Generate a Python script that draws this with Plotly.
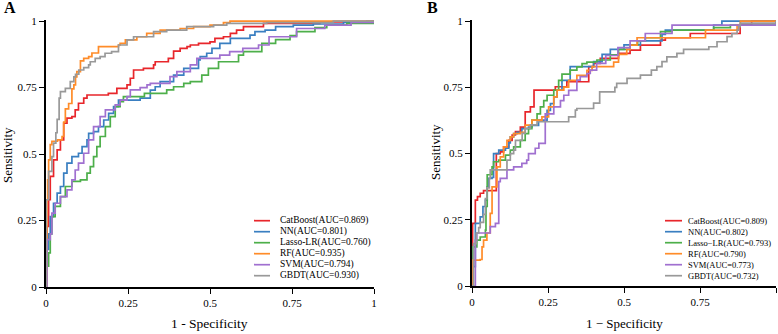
import plotly.graph_objects as go

# ---------------- data ----------------
models = ["CatBoost", "NN", "Lasso-LR", "RF", "SVM", "GBDT"]
models_b = ["CatBoost", "NN", "Lasso\u2212LR", "RF", "SVM", "GBDT"]
auc_a = ["0.869", "0.801", "0.760", "0.935", "0.794", "0.930"]
auc_b = ["0.809", "0.802", "0.793", "0.790", "0.773", "0.732"]
colors = ["#E8262B", "#3A7FC1", "#4DAF4A", "#FF8C29", "#A070D0", "#999999"]
tick_vals = [0, 0.25, 0.5, 0.75, 1]
tick_text = ["0", "0.25", "0.5", "0.75", "1"]

# Panel A ROC corner points (1-specificity, sensitivity)
catboost_a = [(0, 0), (0.003, 0.228), (0.008, 0.328), (0.013, 0.416), (0.023, 0.478), (0.034, 0.516),
              (0.044, 0.553), (0.054, 0.616), (0.064, 0.635), (0.079, 0.641), (0.089, 0.666), (0.099, 0.691),
              (0.115, 0.71), (0.125, 0.722), (0.19, 0.728), (0.216, 0.747), (0.247, 0.76), (0.257, 0.785),
              (0.267, 0.816), (0.297, 0.822), (0.328, 0.835), (0.333, 0.847), (0.373, 0.86), (0.389, 0.887),
              (0.409, 0.897), (0.43, 0.904), (0.44, 0.91), (0.465, 0.916), (0.5, 0.922), (0.515, 0.935),
              (0.541, 0.941), (0.562, 0.954), (0.581, 0.966), (0.602, 0.979), (0.663, 0.991), (0.835, 0.997), (1, 1)]
nn_a = [(0, 0), (0.003, 0.141), (0.008, 0.2), (0.013, 0.265), (0.023, 0.315), (0.034, 0.353), (0.044, 0.378),
        (0.054, 0.428), (0.064, 0.466), (0.079, 0.49), (0.099, 0.503), (0.11, 0.528), (0.125, 0.553),
        (0.13, 0.578), (0.145, 0.584), (0.16, 0.603), (0.176, 0.628), (0.191, 0.653), (0.206, 0.678),
        (0.221, 0.703), (0.287, 0.71), (0.318, 0.74), (0.333, 0.753), (0.348, 0.772), (0.389, 0.797),
        (0.42, 0.822), (0.465, 0.854), (0.47, 0.866), (0.49, 0.879), (0.506, 0.897), (0.53, 0.916),
        (0.562, 0.935), (0.622, 0.947), (0.637, 0.96), (0.668, 0.966), (0.7, 0.979), (0.754, 0.985),
        (0.815, 0.989), (0.907, 0.995), (0.978, 1.0), (1, 1)]
lasso_a = [(0, 0), (0.003, 0.078), (0.008, 0.128), (0.013, 0.2), (0.018, 0.265), (0.028, 0.303), (0.044, 0.34),
           (0.059, 0.378), (0.079, 0.397), (0.105, 0.403), (0.125, 0.428), (0.135, 0.453), (0.145, 0.49),
           (0.155, 0.528), (0.165, 0.566), (0.181, 0.603), (0.196, 0.641), (0.211, 0.678), (0.226, 0.697),
           (0.236, 0.716), (0.3, 0.728), (0.368, 0.741), (0.389, 0.753), (0.42, 0.766), (0.44, 0.772),
           (0.475, 0.797), (0.495, 0.822), (0.526, 0.847), (0.587, 0.872), (0.602, 0.885), (0.658, 0.916),
           (0.7, 0.93), (0.744, 0.945), (0.764, 0.96), (0.82, 0.975), (0.856, 0.985), (0.917, 0.991), (1, 1)]
rf_a = [(0, 0), (0.003, 0.328), (0.005, 0.403), (0.008, 0.478), (0.013, 0.535), (0.018, 0.548), (0.035, 0.553),
        (0.049, 0.566), (0.054, 0.62), (0.059, 0.67), (0.069, 0.69), (0.079, 0.745), (0.085, 0.76),
        (0.09, 0.79), (0.094, 0.81), (0.105, 0.85), (0.115, 0.86), (0.13, 0.866), (0.14, 0.88), (0.16, 0.904),
        (0.221, 0.91), (0.226, 0.916), (0.242, 0.929), (0.277, 0.941), (0.307, 0.954), (0.348, 0.966),
        (0.409, 0.972), (0.45, 0.979), (0.5, 0.985), (0.541, 0.994), (0.561, 1.0), (1, 1)]
svm_a = [(0, 0), (0.003, 0.178), (0.013, 0.2), (0.018, 0.278), (0.028, 0.315), (0.044, 0.34), (0.064, 0.365),
         (0.079, 0.403), (0.089, 0.44), (0.099, 0.466), (0.115, 0.503), (0.13, 0.553), (0.145, 0.603),
         (0.165, 0.641), (0.181, 0.666), (0.211, 0.685), (0.226, 0.703), (0.247, 0.716), (0.257, 0.741),
         (0.287, 0.75), (0.308, 0.76), (0.318, 0.766), (0.378, 0.791), (0.399, 0.81), (0.44, 0.835),
         (0.46, 0.86), (0.53, 0.872), (0.56, 0.885), (0.6, 0.897), (0.648, 0.91), (0.68, 0.941),
         (0.764, 0.972), (0.85, 0.985), (0.93, 0.995), (1, 1)]
gbdt_a = [(0, 0), (0.001, 0.328), (0.008, 0.435), (0.018, 0.49), (0.023, 0.541), (0.03, 0.58), (0.034, 0.63),
          (0.04, 0.71), (0.044, 0.735), (0.059, 0.747), (0.074, 0.772), (0.085, 0.79), (0.09, 0.8),
          (0.1, 0.816), (0.115, 0.825), (0.13, 0.835), (0.135, 0.847), (0.15, 0.86), (0.165, 0.866),
          (0.18, 0.879), (0.2, 0.885), (0.221, 0.91), (0.247, 0.929), (0.267, 0.941), (0.328, 0.96),
          (0.368, 0.966), (0.429, 0.979), (0.511, 0.985), (0.551, 0.991), (0.673, 0.994), (0.876, 1.0), (1, 1)]

# Panel B ROC corner points
catboost_b = [(0, 0), (0.002, 0.236), (0.011, 0.324), (0.018, 0.337), (0.027, 0.35), (0.038, 0.36), (0.08, 0.5),
              (0.093, 0.506), (0.104, 0.525), (0.121, 0.55), (0.132, 0.57), (0.143, 0.583), (0.159, 0.6),
              (0.175, 0.657), (0.192, 0.676), (0.204, 0.739), (0.274, 0.752), (0.312, 0.771), (0.384, 0.828),
              (0.4, 0.84), (0.422, 0.859), (0.482, 0.878), (0.52, 0.89), (0.554, 0.909), (0.62, 0.928),
              (0.636, 0.937), (0.718, 0.953), (0.882, 0.985), (0.92, 1.0), (1, 1)]
nn_b = [(0, 0), (0.002, 0.073), (0.011, 0.236), (0.027, 0.261), (0.036, 0.3), (0.044, 0.324), (0.05, 0.374),
        (0.055, 0.406), (0.066, 0.41), (0.071, 0.5), (0.088, 0.513), (0.11, 0.52), (0.121, 0.54),
        (0.126, 0.563), (0.137, 0.575), (0.148, 0.58), (0.164, 0.594), (0.186, 0.6), (0.197, 0.606),
        (0.219, 0.626), (0.247, 0.663), (0.258, 0.688), (0.269, 0.714), (0.28, 0.739), (0.296, 0.776),
        (0.323, 0.828), (0.4, 0.847), (0.428, 0.874), (0.455, 0.893), (0.5, 0.91), (0.554, 0.925),
        (0.625, 0.95), (0.636, 0.966), (0.795, 0.985), (0.822, 1.0), (1, 1)]
lasso_b = [(0, 0), (0.002, 0.148), (0.016, 0.173), (0.027, 0.185), (0.044, 0.211), (0.046, 0.3), (0.05, 0.42),
           (0.066, 0.45), (0.071, 0.469), (0.088, 0.475), (0.11, 0.494), (0.126, 0.513), (0.137, 0.525),
           (0.159, 0.55), (0.175, 0.575), (0.186, 0.594), (0.197, 0.626), (0.214, 0.65), (0.225, 0.676),
           (0.236, 0.7), (0.247, 0.72), (0.269, 0.739), (0.285, 0.776), (0.296, 0.8), (0.323, 0.815),
           (0.345, 0.827), (0.362, 0.839), (0.378, 0.845), (0.411, 0.853), (0.455, 0.872), (0.482, 0.893),
           (0.52, 0.909), (0.545, 0.925), (0.57, 0.937), (0.62, 0.96), (0.658, 0.966), (0.795, 0.975),
           (0.85, 0.985), (1, 1)]
rf_b = [(0, 0), (0.002, 0.098), (0.027, 0.1), (0.033, 0.148), (0.038, 0.173), (0.049, 0.2), (0.06, 0.274),
        (0.066, 0.374), (0.082, 0.45), (0.093, 0.487), (0.104, 0.525), (0.115, 0.55), (0.126, 0.563),
        (0.137, 0.575), (0.159, 0.58), (0.175, 0.607), (0.197, 0.626), (0.23, 0.638), (0.252, 0.676),
        (0.269, 0.714), (0.28, 0.739), (0.302, 0.751), (0.318, 0.776), (0.345, 0.795), (0.378, 0.814),
        (0.395, 0.828), (0.466, 0.845), (0.482, 0.874), (0.509, 0.893), (0.52, 0.909), (0.543, 0.937),
        (0.768, 0.966), (0.872, 0.985), (0.883, 1.0), (1, 1)]
svm_b = [(0, 0), (0.011, 0.173), (0.016, 0.2), (0.049, 0.2), (0.06, 0.224), (0.077, 0.236), (0.088, 0.394),
         (0.093, 0.406), (0.115, 0.438), (0.137, 0.45), (0.164, 0.463), (0.18, 0.475), (0.186, 0.5),
         (0.208, 0.52), (0.22, 0.538), (0.241, 0.65), (0.269, 0.676), (0.291, 0.7), (0.302, 0.72),
         (0.318, 0.738), (0.345, 0.777), (0.356, 0.79), (0.378, 0.802), (0.389, 0.815), (0.41, 0.84),
         (0.44, 0.87), (0.48, 0.9), (0.52, 0.925), (0.57, 0.953), (0.658, 0.985), (1, 1)]
gbdt_b = [(0, 0), (0.005, 0.16), (0.014, 0.2), (0.022, 0.22), (0.027, 0.24), (0.038, 0.27), (0.044, 0.33),
          (0.049, 0.37), (0.057, 0.406), (0.06, 0.438), (0.115, 0.475), (0.126, 0.5), (0.137, 0.513),
          (0.143, 0.55), (0.165, 0.576), (0.175, 0.595), (0.192, 0.608), (0.214, 0.62), (0.318, 0.638),
          (0.34, 0.664), (0.345, 0.67), (0.4, 0.69), (0.42, 0.733), (0.47, 0.75), (0.476, 0.765),
          (0.51, 0.784), (0.554, 0.796), (0.59, 0.815), (0.608, 0.828), (0.625, 0.847), (0.641, 0.865),
          (0.674, 0.878), (0.696, 0.893), (0.779, 0.903), (0.806, 0.922), (0.839, 0.941), (0.855, 0.953),
          (0.872, 0.966), (0.877, 0.979), (0.882, 0.992), (1, 1)]

curves_a = [catboost_a, nn_a, lasso_a, rf_a, svm_a, gbdt_a]
curves_b = [catboost_b, nn_b, lasso_b, rf_b, svm_b, gbdt_b]

# ---------------- layout helpers ----------------
W, H = 778, 334
FONT = "Liberation Serif"


def px(x):
    return x / W


def py(y):
    return 1 - y / H


fig = go.Figure()

for curves, xa, ya in [(curves_a, "x", "y"), (curves_b, "x2", "y2")]:
    for pts, col, name in zip(curves, colors, models):
        fig.add_trace(go.Scatter(
            x=[p[0] for p in pts], y=[p[1] for p in pts], mode="lines",
            line=dict(color=col, width=1.7, shape="hv"),
            name=name, xaxis=xa, yaxis=ya, showlegend=False, hoverinfo="skip"))

axis_common = dict(
    range=[0, 1], tickvals=tick_vals, ticktext=tick_text, ticks="outside", ticklen=5,
    tickwidth=1.4, tickcolor="black", showline=True, linecolor="black", linewidth=2,
    showgrid=False, zeroline=False, tickfont=dict(family=FONT, size=11, color="black"),
    automargin=False, fixedrange=True)

yr = [0, 1.004]
fig.update_layout(
    width=W, height=H, autosize=False,
    margin=dict(l=0, r=0, t=0, b=0, pad=0, autoexpand=False),
    paper_bgcolor="white", plot_bgcolor="white", showlegend=False,
    font=dict(family=FONT, color="black"),
    xaxis=dict(axis_common, domain=[px(46), px(374)], anchor="y"),
    yaxis=dict(axis_common, domain=[py(287), py(20)], anchor="x", range=yr),
    xaxis2=dict(axis_common, domain=[px(472), px(776)], anchor="y2"),
    yaxis2=dict(axis_common, domain=[py(286), py(20)], anchor="x2", range=yr),
)

ann = []
shapes = []
# panel labels
ann.append(dict(text="<b>A</b>", x=px(2), y=py(8), xref="paper", yref="paper", xanchor="left",
                yanchor="middle", showarrow=False, font=dict(family=FONT, size=16)))
ann.append(dict(text="<b>B</b>", x=px(425), y=py(8), xref="paper", yref="paper", xanchor="left",
                yanchor="middle", showarrow=False, font=dict(family=FONT, size=16)))
# axis titles
ann.append(dict(text="1 - Specificity", x=px(209), y=py(323), xref="paper", yref="paper",
                xanchor="center", yanchor="middle", showarrow=False, font=dict(family=FONT, size=13.5)))
ann.append(dict(text="1 \u2212 Specificity", x=px(624), y=py(323), xref="paper", yref="paper",
                xanchor="center", yanchor="middle", showarrow=False, font=dict(family=FONT, size=13)))
ann.append(dict(text="Sensitivity", x=px(8), y=py(155), xref="paper", yref="paper", textangle=-90,
                xanchor="center", yanchor="middle", showarrow=False, font=dict(family=FONT, size=13)))
ann.append(dict(text="Sensitivity", x=px(435), y=py(152), xref="paper", yref="paper", textangle=-90,
                xanchor="center", yanchor="middle", showarrow=False, font=dict(family=FONT, size=13)))

# manual legends
for names, aucs, lx0, lx1, tx, fs in [(models, auc_a, 254, 270, 278, 9.5),
                                      (models_b, auc_b, 665, 682, 686, 8.5)]:
    for i, (nm, a, col) in enumerate(zip(names, aucs, colors)):
        yy = 220.7 + 11 * i
        shapes.append(dict(type="line", xref="paper", yref="paper", x0=px(lx0), x1=px(lx1),
                           y0=py(yy), y1=py(yy), line=dict(color=col, width=1.7)))
        ann.append(dict(text=f"{nm}(AUC={a})", x=px(tx), y=py(yy), xref="paper", yref="paper",
                        xanchor="left", yanchor="middle", showarrow=False,
                        font=dict(family=FONT, size=fs, color="black")))

fig.update_layout(annotations=ann, shapes=shapes)
fig.write_html("out.html", config={"displayModeBar": False},
               post_script="document.body.style.margin='0px';document.body.style.overflow='hidden';")
